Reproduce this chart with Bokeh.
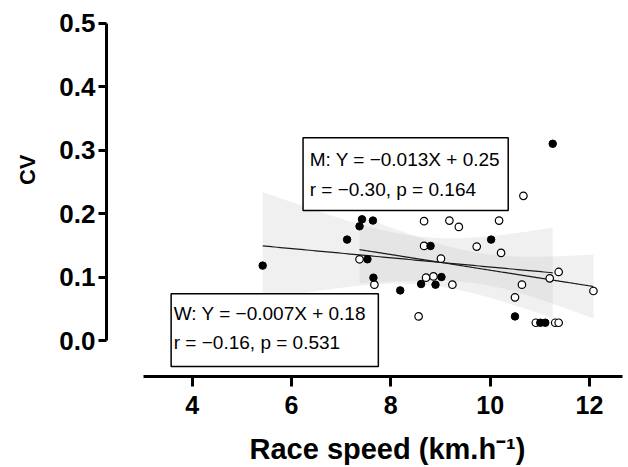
import numpy as np
from math import gamma, pi, sqrt
from bokeh.plotting import figure
from bokeh.models import (Range1d, FixedTicker, NumeralTickFormatter,
                          BoxAnnotation, Label, Title)
from bokeh.embed import file_html
from bokeh.resources import INLINE

# ---- data ----
w_speed = [5.42, 7.12, 7.37, 7.42, 7.64, 7.53, 7.65, 8.19, 8.61, 8.80,
           8.90, 9.02, 10.02, 10.50, 11.01, 11.11, 11.26]
w_cv = [0.118, 0.159, 0.180, 0.191, 0.189, 0.128, 0.099, 0.079, 0.089, 0.149,
        0.088, 0.100, 0.159, 0.038, 0.028, 0.028, 0.310]

m_speed = [7.37, 7.67, 8.56, 8.67, 8.67, 8.71, 8.86, 9.01, 9.18, 9.24,
           9.37, 9.73, 10.18, 10.22, 10.50, 10.64, 10.67, 11.20, 11.38, 12.08,
           10.92, 11.31, 11.38]
m_cv = [0.128, 0.088, 0.038, 0.188, 0.149, 0.099, 0.101, 0.129, 0.189, 0.088,
        0.179, 0.148, 0.189, 0.138, 0.068, 0.088, 0.228, 0.098, 0.108, 0.078,
        0.028, 0.028, 0.028]

x_ticks = [4, 6, 8, 10, 12]
y_ticks = [0.0, 0.1, 0.2, 0.3, 0.4, 0.5]

m_text = ["M: Y = \u22120.013X + 0.25", "r = \u22120.30, p = 0.164"]
w_text = ["W: Y = \u22120.007X + 0.18", "r = \u22120.16, p = 0.531"]

FONT = "Liberation Sans"


def t_crit(df, q=0.975):
    xs = np.linspace(0, 12, 240001)
    c = gamma((df + 1) / 2) / (sqrt(df * pi) * gamma(df / 2))
    pdf = c * (1 + xs ** 2 / df) ** (-(df + 1) / 2)
    cdf = 0.5 + np.concatenate([[0], np.cumsum((pdf[1:] + pdf[:-1]) / 2 * np.diff(xs))])
    return float(np.interp(q, cdf, xs))


def fit_band(xv, yv):
    x = np.asarray(xv, float)
    y = np.asarray(yv, float)
    n = len(x)
    b, a = np.polyfit(x, y, 1)
    res = y - (a + b * x)
    s = np.sqrt(np.sum(res ** 2) / (n - 2))
    mx = x.mean()
    sxx = np.sum((x - mx) ** 2)
    g = np.linspace(x.min(), x.max(), 100)
    fit = a + b * g
    se = s * np.sqrt(1 / n + (g - mx) ** 2 / sxx)
    t = t_crit(n - 2)
    return g, fit, fit - t * se, fit + t * se


p = figure(width=628, height=467, output_backend="svg", toolbar_location=None,
           x_range=Range1d(2.2757, 12.665), y_range=Range1d(-0.0567, 0.5121),
           min_border_left=106, min_border_right=6, min_border_top=15,
           min_border_bottom=91)
p.outline_line_color = None
p.xgrid.visible = False
p.ygrid.visible = False
p.background_fill_color = "white"

# confidence bands and regression lines
for xs_, ys_ in [(w_speed, w_cv), (m_speed, m_cv)]:
    g, fit, lo, hi = fit_band(xs_, ys_)
    p.varea(x=g, y1=lo, y2=hi, fill_color="#cccccc", fill_alpha=0.3)
for xs_, ys_ in [(w_speed, w_cv), (m_speed, m_cv)]:
    g, fit, lo, hi = fit_band(xs_, ys_)
    p.line(g, fit, line_color="#1a1a1a", line_width=1.2)

p.scatter(m_speed, m_cv, marker="circle", size=7.5, fill_color="white",
          line_color="black", line_width=1.2)
p.scatter(w_speed, w_cv, marker="circle", size=7.5, fill_color="black",
          line_color="black")

# axes
xa = p.xaxis[0]
ya = p.yaxis[0]
xa.ticker = FixedTicker(ticks=x_ticks)
ya.ticker = FixedTicker(ticks=y_ticks)
ya.formatter = NumeralTickFormatter(format="0.0")
xa.bounds = (3.019, 12.665)
ya.bounds = (0, 0.5)
for ax, fs, out, so in [(xa, "25px", 10, 9), (ya, "26px", 8, 3)]:
    ax.axis_line_width = 3
    ax.axis_line_color = "black"
    ax.major_tick_line_width = 3
    ax.major_tick_line_color = "black"
    ax.major_tick_in = 0
    ax.major_tick_out = out
    ax.minor_tick_line_color = None
    ax.major_label_text_font = FONT
    ax.major_label_text_font_style = "bold"
    ax.major_label_text_font_size = fs
    ax.major_label_text_color = "black"
    ax.major_label_standoff = so
    # blank axis label used only as spacer before the title panels
    ax.axis_label = " "
    ax.axis_label_text_font_size = "1px"
xa.axis_label_standoff = 10
ya.axis_label_standoff = 10

p.add_layout(Title(text="Race speed (km.h\u207b\u00b9)", align="left", offset=143,
                   text_font=FONT, text_font_style="bold", text_font_size="29px",
                   text_color="black", standoff=0), "below")
p.add_layout(Title(text="CV", align="right", offset=139,
                   text_font=FONT, text_font_style="bold", text_font_size="22px",
                   text_color="black", standoff=6), "left")

# equation boxes
p.add_layout(BoxAnnotation(left=6.233, right=10.364, bottom=0.2049, top=0.3194,
                           fill_color="white", fill_alpha=1.0,
                           line_color="black", line_alpha=1.0, line_width=1.5))
p.add_layout(BoxAnnotation(left=3.577, right=7.749, bottom=-0.041, top=0.0736,
                           fill_color="white", fill_alpha=1.0,
                           line_color="black", line_alpha=1.0, line_width=1.5))
for txt, lx, ly in [(m_text[0], 6.366, 0.2849), (m_text[1], 6.366, 0.2387),
                    (w_text[0], 3.630, 0.0430), (w_text[1], 3.630, -0.0032)]:
    p.add_layout(Label(x=lx, y=ly, text=txt, text_font=FONT, text_font_size="19px",
                       text_color="black", text_baseline="alphabetic",
                       text_align="left"))

open("out.html", "w").write(file_html(p, INLINE))
